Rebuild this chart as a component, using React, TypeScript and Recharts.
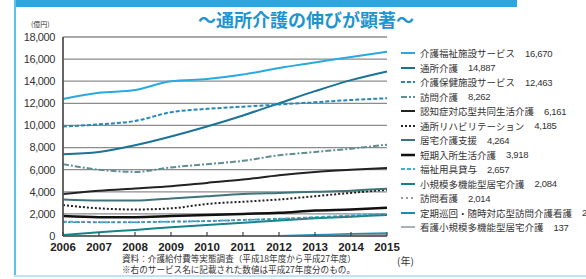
import { LineChart, Line, XAxis, YAxis, CartesianGrid } from "recharts";

// 介護給付費の推移（億円）、2006〜2015年度
const years = ["2006", "2007", "2008", "2009", "2010", "2011", "2012", "2013", "2014", "2015"];

const kaigoFukushi = [12400, 12950, 13200, 14000, 14200, 14600, 15200, 15700, 16200, 16670];
const tsushoKaigo = [7400, 7600, 8200, 9000, 9900, 10900, 12000, 13100, 14100, 14887];
const kaigoHoken = [9900, 10100, 10400, 11200, 11500, 11700, 11900, 12100, 12300, 12463];
const homonKaigo = [6500, 6000, 5800, 6200, 6500, 6800, 7300, 7600, 7900, 8262];
const ninchisho = [3800, 4100, 4300, 4500, 4800, 5100, 5500, 5800, 6000, 6161];
const tsushoReha = [2800, 2500, 2400, 2500, 2900, 3100, 3300, 3600, 3900, 4185];
const kyotakuShien = [3300, 3200, 3200, 3400, 3600, 3800, 3900, 4000, 4100, 4264];
const tankiNyusho = [1800, 1700, 1700, 1800, 1900, 2000, 2100, 2300, 2400, 2550];
const fukushiYogu = [1300, 1250, 1250, 1300, 1350, 1450, 1550, 1700, 1850, 2000];
const shokibo = [100, 350, 550, 800, 1000, 1200, 1400, 1600, 1750, 1900];
const homonKango = [1250, 1250, 1250, 1300, 1350, 1450, 1550, 1650, 1800, 1950];
const teikiJunkai = [null, null, null, null, null, null, 0, 90, 180, 243];
const kangoShokibo = [null, null, null, null, null, null, 0, 30, 80, 137];

const names = [
  "介護福祉施設サービス",
  "通所介護",
  "介護保健施設サービス",
  "訪問介護",
  "認知症対応型共同生活介護",
  "通所リハビリテーション",
  "居宅介護支援",
  "短期入所生活介護",
  "福祉用具貸与",
  "小規模多機能型居宅介護",
  "訪問看護",
  "定期巡回・随時対応型訪問介護看護",
  "看護小規模多機能型居宅介護",
];
const latest = ["16,670", "14,887", "12,463", "8,262", "6,161", "4,185", "4,264", "3,918", "2,657", "2,084", "2,014", "243", "137"];

const yTicks = [0, 2000, 4000, 6000, 8000, 10000, 12000, 14000, 16000, 18000];

const series = [
  { key: "s0", values: kaigoFukushi, color: "#29a9e1", dash: undefined, width: 2 },
  { key: "s1", values: tsushoKaigo, color: "#1b7396", dash: undefined, width: 2 },
  { key: "s2", values: kaigoHoken, color: "#2687b8", dash: "4 2", width: 2 },
  { key: "s3", values: homonKaigo, color: "#5f8e93", dash: "6 2 2 2", width: 2 },
  { key: "s4", values: ninchisho, color: "#222222", dash: undefined, width: 2 },
  { key: "s5", values: tsushoReha, color: "#222222", dash: "2 2", width: 2 },
  { key: "s6", values: kyotakuShien, color: "#3f7479", dash: undefined, width: 2 },
  { key: "s7", values: tankiNyusho, color: "#111111", dash: undefined, width: 2.5 },
  { key: "s8", values: fukushiYogu, color: "#30b4e6", dash: "4 2", width: 2 },
  { key: "s9", values: shokibo, color: "#17838a", dash: undefined, width: 2 },
  { key: "s10", values: homonKango, color: "#777777", dash: "2 3", width: 1.5 },
  { key: "s11", values: teikiJunkai, color: "#1a8fb5", dash: undefined, width: 2 },
  { key: "s12", values: kangoShokibo, color: "#8a9a9c", dash: undefined, width: 1.5 },
];

const data = years.map((year, i) => {
  const row: any = { year };
  series.forEach((s) => {
    row[s.key] = s.values[i];
  });
  return row;
});

const jp = '"Noto Sans CJK JP", "Noto Sans", sans-serif';
const num = '"Liberation Sans", Arial, sans-serif';

function YearTick({ x, y, payload }: any) {
  return (
    <g>
      <line x1={x} x2={x} y1={y - 4} y2={y} stroke="#444" strokeWidth={1.2} />
      <text x={x} y={y + 15} textAnchor="middle" fontSize={11.5} fontWeight={600} fill="#222" fontFamily={num}>
        {payload.value}
      </text>
    </g>
  );
}

export default function App() {
  return (
    <div style={{ position: "absolute", left: 0, top: 0, width: 586, height: 279, overflow: "hidden", background: "#fff" }}>
      {/* frame */}
      <div style={{ position: "absolute", left: 15, top: 0, width: 502, height: 7, background: "#2aa7e0" }} />
      <div style={{ position: "absolute", left: 14, top: 0, width: 2, height: 277, background: "#5cc1ec" }} />
      <div style={{ position: "absolute", left: 14, top: 275, width: 572, height: 2, background: "#bfe5f5" }} />

      <div
        style={{
          position: "absolute",
          left: 0,
          width: 612,
          top: 9,
          textAlign: "center",
          fontFamily: jp,
          fontWeight: 700,
          fontSize: 18,
          lineHeight: "20px",
          color: "#1e95cf",
        }}
      >
        ～通所介護の伸びが顕著～
      </div>
      <div style={{ position: "absolute", left: 31, top: 19, fontFamily: jp, fontSize: 7, color: "#333" }}>(億円)</div>

      <LineChart width={586} height={279} data={data} margin={{ top: 37, right: 199, bottom: 13, left: 18 }}>
        <CartesianGrid vertical={false} stroke="#8c8c8c" strokeWidth={1.3} />
        <XAxis
          dataKey="year"
          interval={0}
          height={30}
          tickSize={0}
          tickMargin={0}
          tick={<YearTick />}
          axisLine={{ stroke: "#555", strokeWidth: 1.5 }}
        />
        <YAxis
          width={45}
          domain={[0, 18000]}
          ticks={yTicks}
          interval={0}
          tickSize={0}
          tickMargin={8}
          tickFormatter={(v: number) => v.toLocaleString("en-US")}
          tick={{ fontSize: 11, fill: "#333", fontFamily: num, letterSpacing: -0.4 }}
          axisLine={{ stroke: "#555", strokeWidth: 1.8 }}
        />
        {series.map((s) => (
          <Line
            key={s.key}
            dataKey={s.key}
            type="monotone"
            stroke={s.color}
            strokeWidth={s.width}
            strokeDasharray={s.dash}
            dot={false}
            activeDot={false}
            isAnimationActive={false}
            connectNulls={false}
          />
        ))}
      </LineChart>

      {/* legend */}
      <div style={{ position: "absolute", left: 401, top: 46 }}>
        {series.map((s, i) => (
          <div key={s.key} style={{ display: "flex", alignItems: "center", height: 14.5, whiteSpace: "nowrap" }}>
            <svg width={14} height={6} style={{ marginRight: 5 }}>
              <line x1={0} x2={14} y1={3} y2={3} stroke={s.color} strokeWidth={s.width} strokeDasharray={s.dash} />
            </svg>
            <span style={{ fontFamily: jp, fontSize: 9.5, color: "#333" }}>{names[i]}</span>
            <span style={{ fontFamily: num, fontSize: 9.5, color: "#333", marginLeft: 10, letterSpacing: -0.3 }}>{latest[i]}</span>
          </div>
        ))}
      </div>

      <div style={{ position: "absolute", left: 397, top: 253, fontFamily: jp, fontSize: 10, color: "#333" }}>(年)</div>
      <div style={{ position: "absolute", left: 122, top: 253, fontFamily: jp, fontSize: 8.6, lineHeight: "10.5px", color: "#333" }}>
        <div>資料：介護給付費等実態調査（平成18年度から平成27年度）</div>
        <div>※右のサービス名に記載された数値は平成27年度分のもの。</div>
      </div>
    </div>
  );
}
